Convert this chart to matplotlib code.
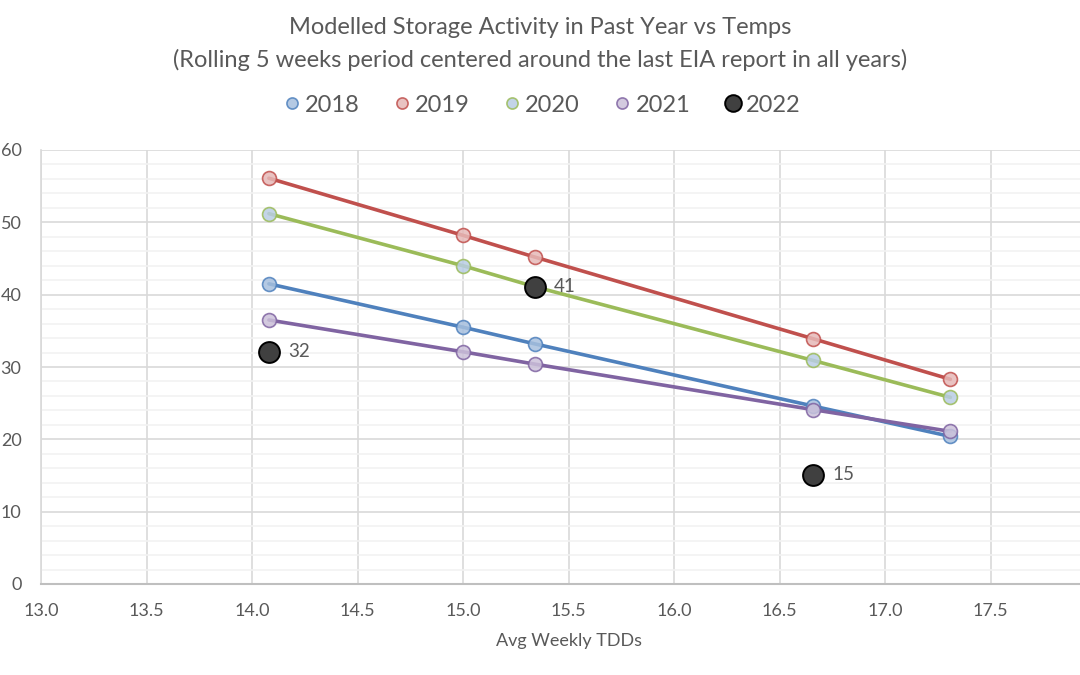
import matplotlib
matplotlib.use("Agg")
import matplotlib.pyplot as plt
from matplotlib.ticker import MultipleLocator, FormatStrFormatter

plt.rcParams['font.family'] = ['Lato', 'DejaVu Sans']

x_tdd = [14.08, 15.0, 15.34, 16.66, 17.31]
years = ["2018", "2019", "2020", "2021"]
v2018 = [41.5, 35.5, 33.2, 24.6, 20.4]
v2019 = [56.1, 48.2, 45.2, 33.9, 28.3]
v2020 = [51.2, 44.0, 41.1, 30.9, 25.8]
v2021 = [36.5, 32.1, 30.4, 24.1, 21.1]
x2022 = [14.08, 15.34, 16.66]
v2022 = [32.1, 41.1, 15.1]
labels2022 = ["32", "41", "15"]

line_colors = ["#4F81BD", "#C0504D", "#9BBB59", "#8064A2"]
fill_colors = ["#A7C0DE", "#E6B9B8", "#B9CDE5", "#CCC1DA"]
series = [v2018, v2019, v2020, v2021]

W, H = 1080, 675
fig = plt.figure(figsize=(W / 100, H / 100), dpi=100)
ax = fig.add_axes([41 / W, 1 - 584 / H, (1096 - 41) / W, (584 - 150) / H])

text_col = "#595959"
handles = []
for yr, vals, lc, fc in zip(years, series, line_colors, fill_colors):
    ax.plot(x_tdd, vals, color=lc, lw=2.6, zorder=3, solid_capstyle='round')
    h = ax.plot(x_tdd, vals, ls='none', marker='o', ms=10, mfc=fc, mec=lc,
                mew=1.2, alpha=0.85, zorder=4, label=yr)[0]
    handles.append(h)

h22 = ax.plot(x2022, v2022, ls='none', marker='o', ms=15, mfc="#404040",
              mec="#000000", mew=1.4, zorder=5, label="2022")[0]
handles.append(h22)
for xv, yv, lab in zip(x2022, v2022, labels2022):
    ax.annotate(lab, (xv, yv), xytext=(14, 0), textcoords='offset points',
                ha='left', va='center', fontsize=13.5, color=text_col)

ax.set_xlim(13.0, 18.0)
ax.set_ylim(0, 60)
ax.xaxis.set_major_locator(MultipleLocator(0.5))
ax.xaxis.set_major_formatter(FormatStrFormatter('%.1f'))
ax.yaxis.set_major_locator(MultipleLocator(10))
ax.yaxis.set_minor_locator(MultipleLocator(2))

ax.grid(True, which='major', axis='both', color='#D9D9D9', lw=1.2, zorder=0)
ax.grid(True, which='minor', axis='y', color='#F2F2F2', lw=1.2, zorder=0)
ax.set_axisbelow(True)

for s in ['top', 'right']:
    ax.spines[s].set_visible(False)
ax.spines['left'].set_color('#D9D9D9')
ax.spines['bottom'].set_color('#BFBFBF')
ax.spines['left'].set_linewidth(1.2)
ax.spines['bottom'].set_linewidth(1.5)

ax.tick_params(axis='both', which='both', length=0, colors=text_col, labelsize=13)
ax.tick_params(axis='y', pad=14)
ax.tick_params(axis='x', pad=14)

ax.set_xlabel("Avg Weekly TDDs", fontsize=13, color=text_col, labelpad=10)

fig.text(0.5, 1 - 28 / H, "Modelled Storage Activity in Past Year vs Temps",
         ha='center', va='center', fontsize=17, color=text_col)
fig.text(0.5, 1 - 60 / H,
         "(Rolling 5 weeks period centered around the last EIA report in all years)",
         ha='center', va='center', fontsize=17, color=text_col)

fig.legend(handles=handles, labels=years + ["2022"], loc='center',
           bbox_to_anchor=(0.5, 1 - 105 / H), ncol=5, frameon=False,
           fontsize=17, labelcolor=text_col, handletextpad=0.05,
           handlelength=1.0, columnspacing=1.3, markerscale=0.8)

fig.savefig("out.png", dpi=100)
